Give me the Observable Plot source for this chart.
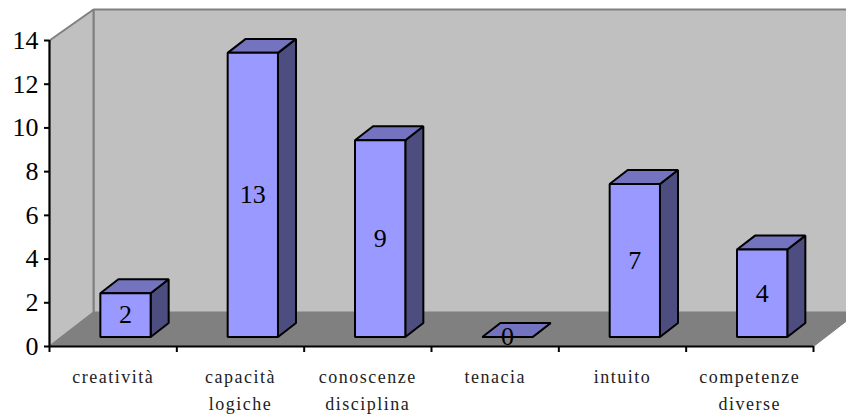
<!DOCTYPE html>
<html>
<head>
<meta charset="utf-8">
<style>
html,body{margin:0;padding:0;background:#fff;overflow:hidden}
.xlab text{letter-spacing:1.5px}
</style>
<script src="https://cdn.jsdelivr.net/npm/d3@7"></script>
<script src="https://cdn.jsdelivr.net/npm/@observablehq/plot@0.6"></script>
</head>
<body>
<div id="chart"></div>
<script>
const categories = ["creatività", "capacità\nlogiche", "conoscenze\ndisciplina", "tenacia", "intuito", "competenze\ndiverse"];
const values = [2, 13, 9, 0, 7, 4];
const yTicks = [0, 2, 4, 6, 8, 10, 12, 14];

// Oblique projection: depth d in [0,1] shifts a point along the box's receding edge
const marginLeft = 49, marginRight = 33, marginTop = 40, marginBottom = 71;
const width = 846, height = 417;
const pxPerBand = (width - marginLeft - marginRight) / categories.length;
const pxPerUnit = (height - marginTop - marginBottom) / 14;
const depthX = 44 / pxPerBand;
const floorRise = 34 / pxPerUnit;
const ceilRise = 31 / pxPerUnit;
const barFront = 0.28, barBack = 0.69, barWidth = 0.395;

const at = (x, v, d) => ({x: x + d * depthX, y: v + d * (v >= 14 ? ceilRise : floorRise)});
const n = categories.length;

const backWall = [at(0,0,1), at(n,0,1), at(n,14,1), at(0,14,1)];
const sideWall = [at(0,0,0), at(0,0,1), at(0,14,1), at(0,14,0)];
const floor = [at(0,0,0), at(n,0,0), at(n,0,1), at(0,0,1)];

const faces = (kind) => values.flatMap((v, i) => {
  const a = i + 0.5 - barWidth / 2, b = i + 0.5 + barWidth / 2;
  const poly = {
    front: [at(a,0,barFront), at(b,0,barFront), at(b,v,barFront), at(a,v,barFront)],
    top: [at(a,v,barFront), at(b,v,barFront), at(b,v,barBack), at(a,v,barBack)],
    side: [at(b,0,barFront), at(b,0,barBack), at(b,v,barBack), at(b,v,barFront)]
  }[kind];
  return poly.map(p => ({...p, id: i}));
});

const poly = (data, fill, stroke, strokeWidth) =>
  Plot.line(data, {x: "x", y: "y", z: "id", fill, stroke, strokeWidth, curve: "linear-closed", strokeLinejoin: "miter"});

const labelPos = values.map((v, i) => ({...at(i + 0.5, v / 2, barFront), t: String(v)}));

const chart = Plot.plot({
  width, height, marginLeft, marginRight, marginTop, marginBottom,
  style: {fontFamily: "'Liberation Serif', serif", background: "#fff", color: "#000"},
  x: {domain: [0, n], range: [marginLeft, width - marginRight]},
  y: {domain: [0, 14], range: [height - marginBottom, marginTop]},
  marks: [
    poly(backWall, "#c0c0c0", "#808080", 2),
    poly(sideWall, "#c0c0c0", "#808080", 2),
    poly(floor, "#808080", "#808080", 1),
    Plot.ruleX([0], {stroke: "#000", strokeWidth: 2}),
    Plot.ruleY([0], {stroke: "#000", strokeWidth: 2}),
    Plot.axisY({ticks: yTicks, tickSize: 5, tickPadding: 6, fontSize: 26, label: null, stroke: "#000", strokeWidth: 2, strokeOpacity: 1, tickFormat: d => String(d)}),
    Plot.axisX({ticks: d3.range(n + 1), tickSize: 6, tickFormat: () => "", label: null, stroke: "#000", strokeWidth: 2}),
    poly(faces("side"), "#4d4d80", "#000", 2),
    poly(faces("top"), "#7373bf", "#000", 2),
    poly(faces("front"), "#9999ff", "#000", 2),
    Plot.text(labelPos, {x: "x", y: "y", text: "t", fontSize: 26, fill: "#000"}),
    Plot.text(categories, {x: (d, i) => i + 0.5, y: () => 0, text: d => d, dy: 17, lineAnchor: "top", lineHeight: 1.5, fontSize: 18, fill: "#222", className: "xlab"})
  ]
});
document.getElementById("chart").appendChild(chart);
</script>
</body>
</html>
